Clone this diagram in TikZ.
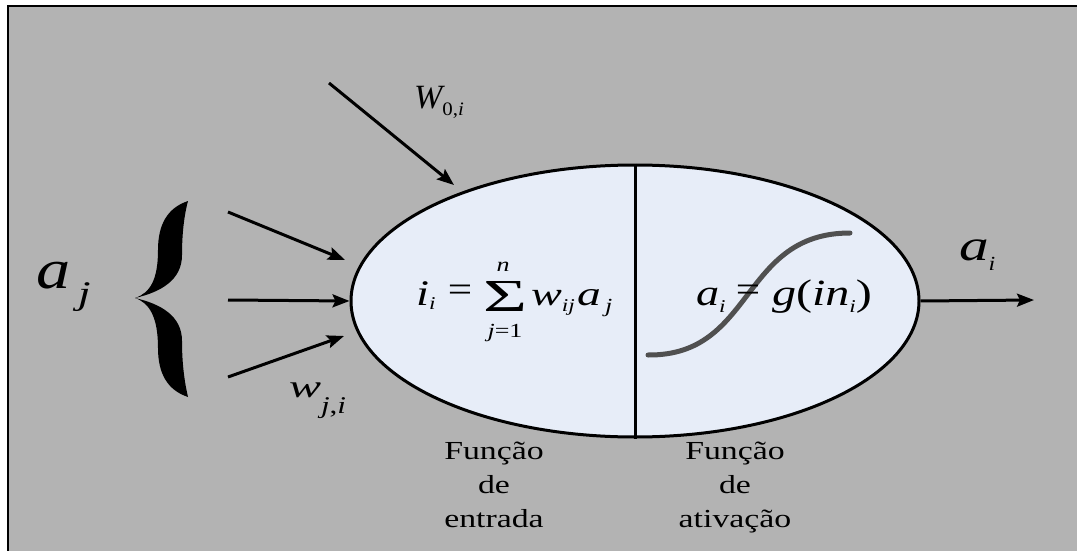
\documentclass[tikz,border=0pt]{standalone}
\usepackage{fontspec}
\usepackage{graphicx}
\setmainfont{Liberation Serif}
\usetikzlibrary{arrows.meta,shapes.geometric}
\definecolor{bggray}{HTML}{B3B3B3}
\definecolor{cellfill}{HTML}{E7EDF8}
\definecolor{curvegray}{HTML}{505050}
\newcommand\fs[1]{\fontsize{#1}{#1}\selectfont}
\newcommand\hs[2][1.3]{\scalebox{#1}[1]{#2}}
\begin{document}
\begin{tikzpicture}[x=1pt,y=-1pt,
  txt/.style={inner sep=0pt, outer sep=0pt, anchor=base west},
  ctxt/.style={inner sep=0pt, outer sep=0pt, anchor=base},
  conn/.style={line width=3pt, -{Stealth[length=17pt,width=13pt,inset=3pt]}},
  label/.style={inner sep=0pt, anchor=north, align=center, font=\fontsize{26}{34}\selectfont, text=black}]
\useasboundingbox (0,0) rectangle (1077,551);
\fill[white] (0,0) rectangle (1077,551);
\fill[bggray] (8,6) rectangle (1080,556);
\draw[line width=2pt] (8,560) -- (8,6) -- (1080,6);

% neuron body
\node[ellipse, draw, line width=3pt, fill=cellfill, minimum width=568pt, minimum height=272pt, inner sep=0pt] (neuron) at (635,301) {};
\draw[line width=3pt] (neuron.north) -- (neuron.south);

% sigmoid curve
\draw[curvegray, line width=5pt, line cap=round] (648,355) .. controls (755,356) and (740,233) .. (850,233);

% brace
\fill (188,201) .. controls (167,208) and (158,225) .. (158,250)
  .. controls (158,280) and (150,293) .. (135,298)
  .. controls (161,292) and (182,280) .. (182,255)
  .. controls (182,230) and (185,212) .. (188,201) -- cycle;
\fill (188,397) .. controls (167,390) and (158,373) .. (158,348)
  .. controls (158,318) and (150,303) .. (135,298)
  .. controls (161,304) and (182,316) .. (182,341)
  .. controls (182,366) and (185,384) .. (188,397) -- cycle;

% connectors
\coordinate (in1s) at (228,212);
\coordinate (in1e) at (345,260);
\coordinate (in2s) at (228,300);
\coordinate (in3s) at (228,377);
\coordinate (in3e) at (344,336);
\coordinate (w0s) at (329,83);
\coordinate (w0e) at (454,185);
\coordinate (oute) at (1034,300);
\draw[conn] (in1s) -- (in1e);
\draw[conn] (in2s) -- (neuron.west);
\draw[conn] (in3s) -- (in3e);
\draw[conn] (w0s) -- (w0e);
\draw[conn] (neuron.east) -- (oute);

% labels
\node[txt] (aj) at (36,288) {\hs[1.22]{\fs{56}\itshape a}\raisebox{-16pt}{\hs[1.4]{\fs{33}\itshape\,j}}};
\node[txt] (w0) at (414,108) {\fs{34}\itshape W\raisebox{-8pt}{\hs[1.1]{\fs{19}\upshape 0,\itshape i}}};
\node[txt] (wji) at (289,397) {\hs[1.5]{\fs{32}\itshape w}\raisebox{-16pt}{\hs[1.3]{\fs{24}\itshape j\upshape ,\itshape i}}};
\node[txt] (ai) at (959,260) {\hs[1.35]{\fs{44}\itshape a}\raisebox{-10pt}{\hs[1.2]{\fs{20}\itshape i}}};

% input function
\node[txt] (ii) at (416,305) {\hs{\fs{36}\itshape i\raisebox{-4pt}{\fs{18}\itshape i}}};
\node[inner sep=0pt] (eq1) at (460,293) {\hs[1.2]{\fs{36}=}};
\node[inner sep=0pt] (sig) at (505,296) {\resizebox{44pt}{30pt}{Σ}};
\node[ctxt] (sn) at (503,271) {\hs{\fs{20}\itshape n}};
\node[ctxt] (sj) at (505,337) {\hs{\fs{20}\itshape j\upshape =1}};
\node[txt] (wij) at (531,305) {\hs[1.4]{\fs{33}\itshape w}\raisebox{-6pt}{\hs{\fs{18}\itshape ij}}};
\node[txt] (aj2) at (577,305) {\hs[1.4]{\fs{34}\itshape a}\raisebox{-7pt}{\hs{\fs{20}\itshape\,j}}};

% activation function
\node[txt] (ai2) at (696,305) {\hs[1.25]{\fs{37}\itshape a}\raisebox{-7pt}{\hs{\fs{18}\itshape i}}};
\node[inner sep=0pt] (eq2) at (748,293) {\hs[1.2]{\fs{36}=}};
\node[txt] (gin) at (772,305) {\hs{\fs{37}\itshape g\upshape(\itshape in\raisebox{-7pt}{\fs{18}\itshape i}\upshape)}};

\node[label] (lin) at (494,442) {\hs{Função}\\\hs{de}\\\hs{entrada}};
\node[label] (lact) at (735,442) {\hs{Função}\\\hs{de}\\\hs{ativação}};
\end{tikzpicture}
\end{document}
